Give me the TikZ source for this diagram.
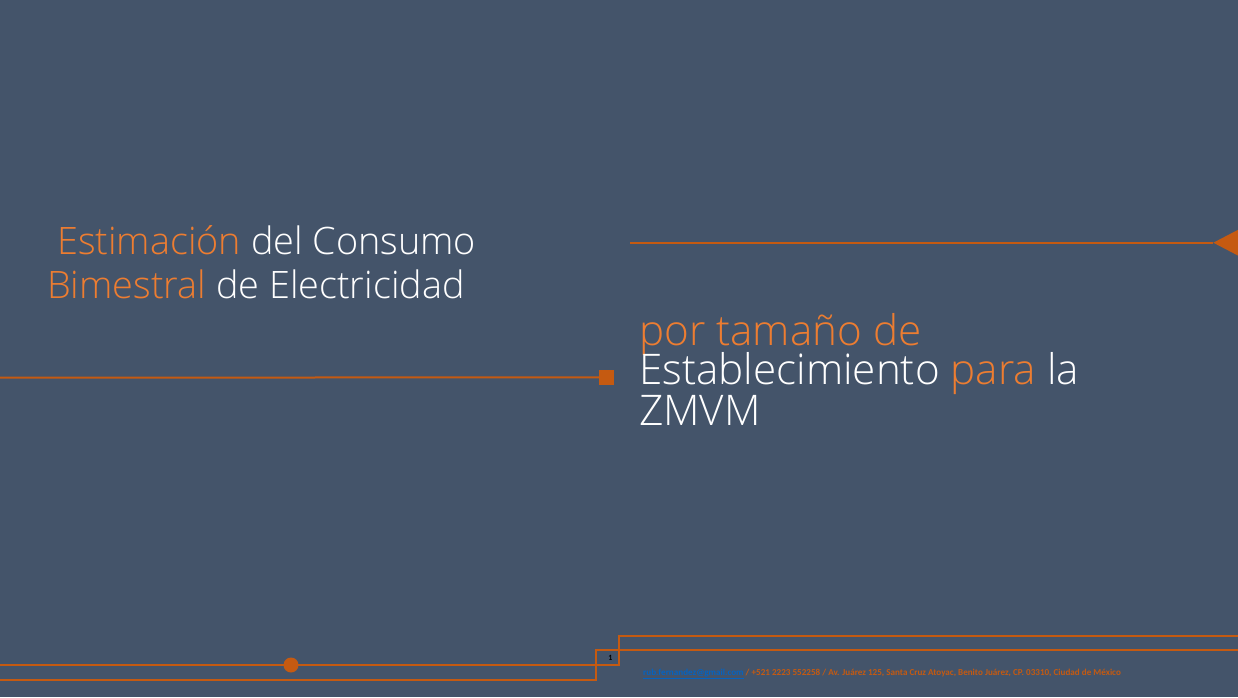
\documentclass[tikz,border=0pt]{standalone}
\usepackage{fontspec}
\setmainfont{Open Sans Light}
\newfontfamily\footfont{Carlito}
\usetikzlibrary{calc}
\definecolor{slatebg}{HTML}{44546A}
\definecolor{accent}{HTML}{ED7D31}
\definecolor{rule}{HTML}{C55A11}
\definecolor{linkblue}{HTML}{0563C1}
\tikzset{
  wire/.style={draw=rule,line width=2pt},
  big/.style={anchor=base west,inner sep=0pt,font=\fontsize{37.8}{43}\selectfont,text=white},
  bigger/.style={anchor=base west,inner sep=0pt,font=\fontsize{42.2}{40}\selectfont,text=white},
  foot/.style={anchor=base west,inner sep=0pt,font=\footfont\bfseries\fontsize{9.1}{10}\selectfont,text=rule}
}
\begin{document}
\begin{tikzpicture}[x=1pt,y=-1pt]
      \fill[slatebg](0,0)rectangle(1238,697);
      \useasboundingbox(0,0)rectangle(1238,697);
      % title, left block
      \node[big](t1)at(57,254){\textcolor{accent}{Estimación} del Consumo};
      \node[big](t2)at(47,298){\textcolor{accent}{Bimestral} de Electricidad};
      % subtitle, right block
      \node[bigger](s1)at(639,345){\textcolor{accent}{por tamaño de}};
      \node[bigger](s2)at(639,384){Establecimiento \textcolor{accent}{para} la};
      \node[bigger](s3)at(639,425){ZMVM};
      % rules with their ends
      \coordinate(LA)at(0,377.7);
      \node[fill=rule,minimum size=14.5pt,inner sep=0pt](sq)at(606.5,377.3){};
      \draw[wire](LA)--(sq.west);
      \coordinate(RA)at(630,242.7);
      \coordinate(tip)at(1213.3,242.7);
      \fill[rule](tip)--(1239,229.3)--(1239,256.1)--cycle;
      \draw[wire](RA)--(tip);
      % footer frame
      \coordinate(F1)at(0,665);\coordinate(F2)at(619,665);
      \coordinate(F3)at(619,635.7);\coordinate(F4)at(1238,635.7);
      \coordinate(G1)at(0,680);\coordinate(G2)at(596,680);
      \coordinate(G3)at(596,649.7);\coordinate(G4)at(1238,649.7);
      \draw[wire](F1)--(F2)--(F3)--(F4) (G1)--(G2)--(G3)--(G4);
      \fill[rule](291,665)circle(7.5pt)coordinate(dot);
      \node[inner sep=0pt,text=black,font=\footfont\bfseries\fontsize{8}{9}\selectfont](pg)at(610.5,657.5){1};
      \node[foot](ft)at(643,675){\textcolor{linkblue}{\underline{rub.fernandez@gmail.com}} / +521 2223 552258 / Av. Juárez 125, Santa Cruz Atoyac, Benito Juárez, CP. 03310, Ciudad de México};
    \end{tikzpicture}
\end{document}
